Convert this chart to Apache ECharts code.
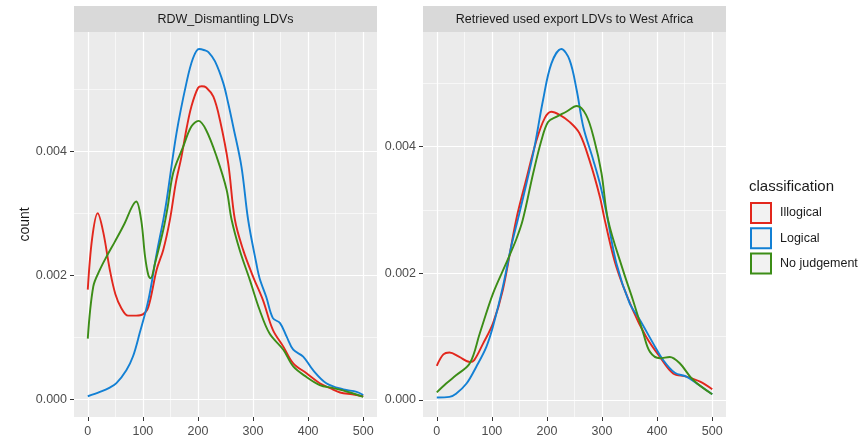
<!DOCTYPE html>
<html>
<head>
<meta charset="utf-8">
<script src="https://cdn.jsdelivr.net/npm/echarts@6/dist/echarts.min.js"></script>
<style>
  html, body { margin: 0; padding: 0; background: #fff; }
  #main { width: 868px; height: 439px; }
</style>
</head>
<body>
<div id="main"></div>
<script>
// facet titles and legend entries
var panels = ['RDW_Dismantling LDVs', 'Retrieved used export LDVs to West Africa'];
var classes = ['Illogical', 'Logical', 'No judgement'];
var colors = ['#E2271D', '#1380D4', '#3C8D17'];

// tick values
var xTicks = [0, 100, 200, 300, 400, 500];
var xMinor = [50, 150, 250, 350, 450];
var yTicks = [0, 0.002, 0.004];
var yMinor = [0.001, 0.003, 0.005];

// density curves, [x, count]
var leftIllogical = [[0,0.00177],[8,0.0026],[18,0.0030],[28,0.0027],[40,0.00209],[50,0.0017],[61,0.00147],[73,0.00135],[88,0.00135],[100,0.00137],[110,0.00149],[125,0.00209],[137,0.00241],[149,0.00289],[160,0.0035],[170,0.00391],[180,0.0044],[188,0.00472],[200,0.00502],[207,0.00505],[215,0.00503],[228,0.00488],[240,0.0045],[255,0.0038],[267,0.0029],[282,0.00241],[300,0.00198],[318,0.0016],[336,0.00112],[355,0.00085],[373,0.00058],[397,0.00042],[421,0.00026],[440,0.00018],[458,0.00011],[480,0.00008],[500,0.00005]];
var leftLogical = [[0,0.00005],[22,0.00012],[40,0.00019],[52,0.00026],[70,0.00047],[82,0.00069],[94,0.00106],[110,0.0016],[125,0.00235],[137,0.00289],[143,0.0032],[161,0.00429],[179,0.0051],[191,0.0055],[202,0.00565],[212,0.00563],[219,0.0056],[231,0.00545],[246,0.0051],[255,0.00477],[264,0.0044],[279,0.00375],[291,0.0029],[306,0.00219],[312,0.00195],[324,0.00165],[336,0.00131],[349,0.00123],[361,0.00101],[373,0.0008],[391,0.00069],[409,0.00047],[433,0.00026],[464,0.00016],[488,0.00012],[500,0.00007]];
var leftNoJudgement = [[0,0.00098],[10,0.00182],[22,0.00209],[34,0.0023],[49,0.00254],[67,0.00284],[80,0.0031],[88,0.00319],[97,0.00289],[104,0.0023],[110,0.002],[114,0.00195],[122,0.00219],[137,0.00273],[145,0.0031],[155,0.00365],[173,0.00407],[188,0.0044],[201,0.00449],[215,0.00434],[234,0.00391],[252,0.00338],[261,0.0029],[276,0.0024],[294,0.00193],[312,0.00144],[330,0.00106],[355,0.0008],[373,0.00053],[397,0.00036],[421,0.00023],[446,0.00018],[476,0.00011],[500,0.00004]];

var rightIllogical = [[0,0.00054],[12,0.00072],[23,0.00075],[41,0.00068],[60,0.0006],[68,0.00063],[84,0.00089],[102,0.00121],[120,0.00174],[144,0.00284],[162,0.00347],[181,0.0041],[196,0.00445],[208,0.00455],[223,0.0045],[241,0.00439],[259,0.00421],[277,0.00379],[296,0.00321],[305,0.00284],[326,0.0021],[356,0.00142],[380,0.001],[405,0.00068],[429,0.00042],[453,0.00037],[478,0.00029],[500,0.00017]];
var rightLogical = [[0,0.00004],[23,0.00005],[35,0.0001],[54,0.00026],[72,0.00053],[90,0.00084],[102,0.00116],[120,0.00179],[135,0.00242],[150,0.00295],[175,0.00389],[193,0.00474],[208,0.00531],[226,0.00554],[241,0.00537],[254,0.00489],[266,0.00431],[284,0.00379],[296,0.00342],[308,0.00295],[326,0.00216],[350,0.00153],[369,0.00126],[393,0.00089],[411,0.00063],[432,0.00043],[453,0.00037],[472,0.00026],[500,0.00009]];
var rightNoJudgement = [[0,0.00012],[17,0.00026],[35,0.00039],[60,0.00058],[78,0.00105],[102,0.00168],[126,0.00216],[144,0.00253],[156,0.00284],[175,0.00358],[190,0.0041],[202,0.00439],[217,0.00447],[235,0.00455],[254,0.00464],[271,0.0045],[286,0.0041],[299,0.00358],[311,0.00284],[338,0.00205],[356,0.00158],[375,0.00105],[387,0.00076],[405,0.00066],[423,0.00068],[441,0.00058],[465,0.00032],[500,0.00009]];

var FONT = '"Liberation Sans", Arial, sans-serif';
var chart = echarts.init(document.getElementById('main'));

var grids = [
    {left: 74, top: 32, width: 303, height: 385},
    {left: 423, top: 32, width: 303, height: 385}
];
var yRange = [[-0.000285, 0.005924], [-0.000268, 0.005809]];

function majorX(g) {
    return {
        gridIndex: g, type: 'value', min: -25, max: 525, position: 'bottom',
        axisLine: {show: false, onZero: false},
        axisTick: {show: true, customValues: xTicks, length: 4, lineStyle: {color: '#333', width: 1}},
        axisLabel: {customValues: xTicks, color: '#4D4D4D', fontSize: 12.5, margin: 8, fontFamily: FONT},
        splitLine: {show: true, lineStyle: {color: '#fff', width: 1.2}}
    };
}
function minorX(g) {
    return {
        gridIndex: g, type: 'value', min: -25, max: 525, position: 'top',
        axisLine: {show: false, onZero: false},
        axisTick: {show: false, customValues: xMinor},
        axisLabel: {show: false, customValues: xMinor},
        splitLine: {show: true, lineStyle: {color: '#fff', width: 0.6}}
    };
}
function majorY(g) {
    var ax = {
        gridIndex: g, type: 'value', min: yRange[g][0], max: yRange[g][1], position: 'left',
        axisLine: {show: false, onZero: false},
        axisTick: {show: true, customValues: yTicks, length: 4, lineStyle: {color: '#333', width: 1}},
        axisLabel: {
            customValues: yTicks, color: '#4D4D4D', fontSize: 12.5, margin: 7, fontFamily: FONT,
            formatter: function (v) { return v.toFixed(3); }
        },
        splitLine: {show: true, lineStyle: {color: '#fff', width: 1.2}}
    };
    if (g === 0) {
        ax.name = 'count';
        ax.nameLocation = 'middle';
        ax.nameGap = 42;
        ax.nameTextStyle = {color: '#1A1A1A', fontSize: 14, fontFamily: FONT};
    }
    return ax;
}
function minorY(g) {
    return {
        gridIndex: g, type: 'value', min: yRange[g][0], max: yRange[g][1], position: 'right',
        axisLine: {show: false, onZero: false},
        axisTick: {show: false, customValues: yMinor},
        axisLabel: {show: false, customValues: yMinor},
        splitLine: {show: true, lineStyle: {color: '#fff', width: 0.6}}
    };
}

function curve(name, data, g, ci) {
    return {
        name: name, type: 'line', data: data,
        xAxisIndex: g * 2, yAxisIndex: g * 2,
        smooth: 0.35, showSymbol: false, symbol: 'none', silent: true,
        lineStyle: {color: colors[ci], width: 1.9},
        itemStyle: {color: colors[ci]},
        z: 5
    };
}

var strips = [];
grids.forEach(function (gr, i) {
    strips.push({
        type: 'rect', silent: true,
        shape: {x: gr.left, y: 6, width: gr.width, height: 26},
        style: {fill: '#D9D9D9'}
    });
    strips.push({
        type: 'text', silent: true,
        x: gr.left + gr.width / 2, y: 20,
        style: {text: panels[i], fill: '#1A1A1A', font: '12.5px ' + FONT, align: 'center', verticalAlign: 'middle'}
    });
});

var option = {
    animation: false,
    backgroundColor: '#fff',
    title: {
        text: 'classification', left: 749, top: 179, padding: 0,
        textStyle: {fontSize: 15, fontWeight: 'normal', color: '#1A1A1A', fontFamily: FONT}
    },
    legend: {
        data: classes.map(function (c, i) {
            return {name: c, itemStyle: {color: '#F2F2F2', borderColor: colors[i], borderWidth: 2}};
        }),
        orient: 'vertical', left: 750, top: 202, padding: 0,
        icon: 'rect', itemWidth: 20, itemHeight: 20, itemGap: 3.3,
        lineStyle: {opacity: 0},
        textStyle: {fontSize: 12.5, color: '#1A1A1A', fontFamily: FONT, padding: [0, 0, 0, 4]},
        selectedMode: false
    },
    grid: grids.map(function (gr) {
        return {left: gr.left, top: gr.top, width: gr.width, height: gr.height,
            show: true, backgroundColor: '#EBEBEB', borderWidth: 0, containLabel: false};
    }),
    xAxis: [majorX(0), minorX(0), majorX(1), minorX(1)],
    yAxis: [majorY(0), minorY(0), majorY(1), minorY(1)],
    graphic: strips,
    series: [
        curve(classes[0], leftIllogical, 0, 0),
        curve(classes[1], leftLogical, 0, 1),
        curve(classes[2], leftNoJudgement, 0, 2),
        curve(classes[0], rightIllogical, 1, 0),
        curve(classes[1], rightLogical, 1, 1),
        curve(classes[2], rightNoJudgement, 1, 2)
    ]
};
chart.setOption(option);
</script>
</body>
</html>
